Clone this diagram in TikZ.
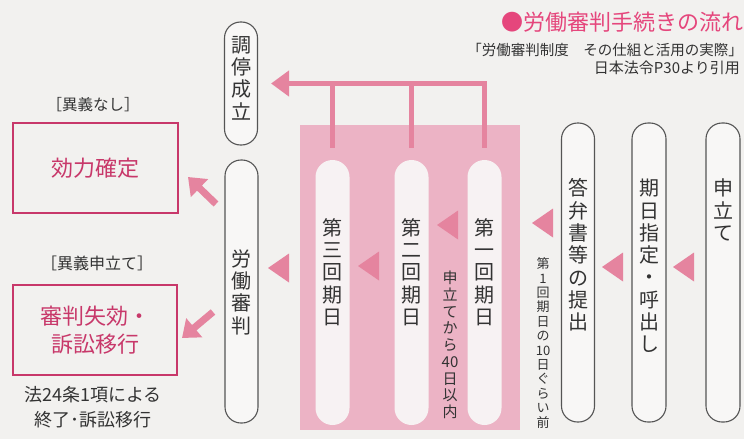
\documentclass[tikz,border=0pt]{standalone}
\usepackage{fontspec}
\setmainfont{Noto Sans CJK JP}
\usetikzlibrary{arrows.meta}
\definecolor{bg}{HTML}{F2F1EF}
\definecolor{titlepink}{HTML}{E5467C}
\definecolor{crimson}{HTML}{C8386A}
\definecolor{stagepink}{HTML}{ECB3C5}
\definecolor{arrowpink}{HTML}{E5849F}
\definecolor{ink}{HTML}{333333}
\definecolor{pillline}{HTML}{555555}
\definecolor{pillfill}{HTML}{F8F7F6}
\definecolor{ipillfill}{HTML}{F7F2F3}
\newcommand\fsz[2]{\fontsize{#1}{#2}\selectfont}
\begin{document}
\begin{tikzpicture}[x=1pt,y=-1pt,
  pill/.style={draw=pillline, line width=1.1pt, fill=pillfill, rounded corners=16pt, inner sep=0pt},
  ipill/.style={fill=ipillfill, draw=none, rounded corners=17pt, inner sep=0pt, minimum width=34pt, minimum height=265pt},
  vtext/.style={text=ink, align=center, inner sep=0pt, font=\fsz{20}{22.3}},
  box/.style={draw=crimson, line width=1.2pt, text=crimson, align=center, inner sep=0pt, font=\fsz{22}{28}},
  lbl/.style={text=ink, align=center, inner sep=0pt},
  conn/.style={draw=arrowpink, line width=5pt, -{Triangle[width=25pt,length=18pt]}},
  connline/.style={draw=arrowpink, line width=5pt},
  diag/.style={draw=arrowpink, line width=7pt, -{Triangle[width=24pt,length=16pt]}},
  tri/.pic={\fill[arrowpink] (0,0) -- (21,-14.5) -- (21,14.5) -- cycle;}
]
\useasboundingbox (0,0) rectangle (744,439);
\fill[bg] (0,0) rectangle (744,439);

% title
\node[anchor=east, text=titlepink, inner sep=0pt, font=\fsz{22}{24}] (title) at (744,22) {●労働審判手続きの流れ};
\node[anchor=east, text=ink, inner sep=0pt, font=\fsz{14.5}{16}] (src1) at (743,50) {「労働審判制度　その仕組と活用の実際」};
\node[anchor=east, text=ink, inner sep=0pt, font=\fsz{15}{16}] (src2) at (740,68) {日本法令P30より引用};

% pink stage
\node[fill=stagepink, draw=none, minimum width=220pt, minimum height=305pt, inner sep=0pt] (stage) at (410,277.5) {};

% pills
\node[pill, minimum width=34pt, minimum height=299pt] (moushi) at (723,272.5) {};
\node[pill, minimum width=34pt, minimum height=299pt] (kijitsu) at (649,272.5) {};
\node[pill, minimum width=33pt, minimum height=299pt] (touben) at (578,272.5) {};
\node[pill, minimum width=33pt, minimum height=123pt] (chotei) at (241,83.5) {};
\node[pill, minimum width=33pt, minimum height=263pt] (roudou) at (241.5,291.5) {};
\node[ipill] (d1) at (484.5,292.5) {};
\node[ipill] (d2) at (411.5,292.5) {};
\node[ipill] (d3) at (332.5,292.5) {};

% pill texts
\node[vtext] (tmoushi) at (723,210) {申\\立\\て};
\node[vtext] (tkijitsu) at (649,266) {期\\日\\指\\定\\・\\呼\\出\\し};
\node[vtext] (ttouben) at (578,255) {答\\弁\\書\\等\\の\\提\\出};
\node[vtext] (td1) at (484.5,272) {第\\一\\回\\期\\日};
\node[vtext] (td2) at (411.5,272) {第\\二\\回\\期\\日};
\node[vtext] (td3) at (332.5,272) {第\\三\\回\\期\\日};
\node[vtext] (tchotei) at (241,78) {調\\停\\成\\立};
\node[vtext] (troudou) at (241.5,292) {労\\働\\審\\判};

% small notes
\node[vtext, font=\fsz{15}{16.7}] (note1) at (450,345) {申\\立\\て\\か\\ら\\40\\日\\以\\内};
\node[vtext, font=\fsz{13}{14.4}] (note2) at (543,343) {第\\1\\回\\期\\日\\の\\10\\日\\ぐ\\ら\\い\\前};

% connectors from hearings to chotei
\draw[conn, shorten >=13pt] ([yshift=12pt]d1.north) |- (chotei.east);
\draw[connline] ([yshift=12pt]d2.north) -- (d2.north |- chotei.east);
\draw[connline] ([yshift=12pt]d3.north) -- (d3.north |- chotei.east);

% flow triangles
\pic at (673,267) {tri};
\pic at (602,267) {tri};
\pic at (532,223) {tri};
\pic at (437,225) {tri};
\pic at (358,266) {tri};
\pic at (268,268) {tri};

% result boxes
\node[box, minimum width=165pt, minimum height=90pt] (kouryoku) at (95.5,168) {効力確定};
\node[box, minimum width=164pt, minimum height=90pt] (shikkou) at (95,330) {審判失効・\\訴訟移行};

% labels
\node[lbl, font=\fsz{15.5}{18}] (lnashi) at (93,105) {［異義なし］};
\node[lbl, font=\fsz{16}{18}] (lmoushi) at (97,263) {［異義申立て］};
\node[lbl, font=\fsz{18}{25.5}] (lhou) at (93,407) {法24条1項による\\終了･訴訟移行};

% diagonal arrows
\coordinate (k1) at (216,204);
\coordinate (k2) at (188,177);
\coordinate (s1) at (213,312);
\coordinate (s2) at (182,338);
\draw[diag] (k1) -- (k2);
\draw[diag] (s1) -- (s2);
\end{tikzpicture}
\end{document}
